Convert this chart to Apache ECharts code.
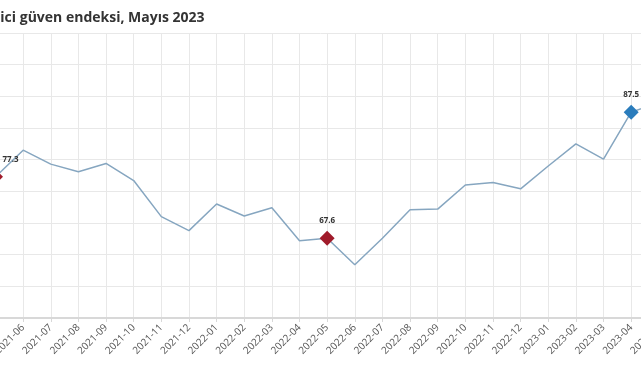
<!DOCTYPE html>
<html>
<head>
<meta charset="utf-8">
<script src="https://cdn.jsdelivr.net/npm/echarts@6/dist/echarts.min.js"></script>
<style>
  html, body { margin: 0; padding: 0; background: #fff; }
  #chart { width: 641px; height: 380px; }
</style>
</head>
<body>
<div id="chart"></div>
<script>
// aylar (2021-05 .. 2023-05)
var months = ['2021-05', '2021-06', '2021-07', '2021-08', '2021-09', '2021-10', '2021-11', '2021-12',
    '2022-01', '2022-02', '2022-03', '2022-04', '2022-05', '2022-06', '2022-07', '2022-08',
    '2022-09', '2022-10', '2022-11', '2022-12', '2023-01', '2023-02', '2023-03', '2023-04', '2023-05'];
// tüketici güven endeksi
var values = [77.3, 81.5, 79.3, 78.1, 79.4, 76.7, 71.0, 68.8,
    73.0, 71.1, 72.4, 67.2, 67.6, 63.4, 67.6, 72.1,
    72.2, 76.0, 76.4, 75.4, 79.0, 82.5, 80.1, 87.5, 89.0];
// işaretli aylar
var redMonths = ['2021-05', '2022-05'];
var blueMonths = ['2023-04'];

var chart = echarts.init(document.getElementById('chart'));

var seriesData = values.map(function (v, i) {
    var m = months[i];
    var item = { value: v };
    if (redMonths.indexOf(m) >= 0 || blueMonths.indexOf(m) >= 0) {
        item.symbol = 'diamond';
        item.symbolSize = 15;
        item.itemStyle = { color: redMonths.indexOf(m) >= 0 ? '#a01b2b' : '#2a7cbc' };
        item.label = {
            show: true,
            position: 'top',
            distance: 6,
            offset: i === 0 ? [15, 0] : [0, 0]
        };
    }
    return item;
});

var option = {
    backgroundColor: '#fff',
    title: {
        text: 'Tüketici güven endeksi, Mayıs 2023',
        left: -45,
        top: 6,
        textStyle: {
            fontFamily: 'Open Sans',
            fontSize: 14,
            fontWeight: 'bold',
            color: '#333'
        }
    },
    grid: {
        left: -4.5,
        right: -17.8,
        top: 33,
        bottom: 62,
        outerBoundsMode: 'none',
        containLabel: false
    },
    xAxis: {
        type: 'category',
        data: months,
        boundaryGap: false,
        axisLine: { lineStyle: { color: '#d8d8d8', width: 2 } },
        axisTick: { show: true, length: 4, lineStyle: { color: '#d8d8d8' } },
        axisLabel: {
            rotate: 45,
            interval: 0,
            margin: 8,
            fontFamily: 'Open Sans',
            fontSize: 10,
            color: '#555'
        },
        splitLine: { show: true, lineStyle: { color: '#e8e8e8' } }
    },
    yAxis: {
        type: 'value',
        min: 55,
        max: 100,
        interval: 5,
        axisLine: { show: false },
        axisTick: { show: false },
        axisLabel: { show: false },
        splitLine: { lineStyle: { color: '#e8e8e8' } }
    },
    series: [{
        type: 'line',
        data: seriesData,
        symbol: 'none',
        showSymbol: true,
        lineStyle: { color: '#86a6c0', width: 1.5 },
        itemStyle: { color: '#86a6c0' },
        label: {
            show: false,
            fontFamily: 'Open Sans',
            fontSize: 8,
            fontWeight: 'bold',
            color: '#333',
            formatter: function (p) { return p.value.toFixed(1); }
        },
        animation: false
    }]
};

chart.setOption(option);
</script>
</body>
</html>
